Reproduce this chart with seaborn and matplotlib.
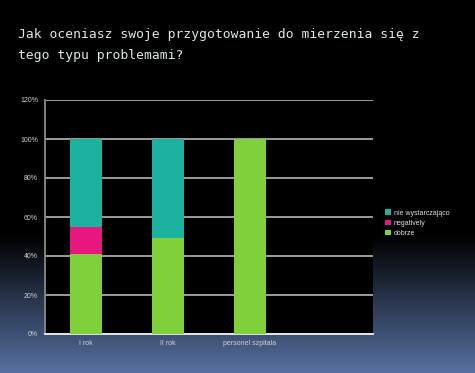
import numpy as np
import pandas as pd
import seaborn as sns
import matplotlib.pyplot as plt
from matplotlib.patches import Patch

# Dane (procenty)
groups = ['I rok', 'II rok', 'personel szpitala']
dobrze = [41, 49, 100]
negatywny = [14, 0, 0]
nie_wystarczajaco = [45, 51, 0]
series_names = ['nie wystarczająco', 'negatively', 'dobrze']
series_colors = ['#1bb3a0', '#e8177f', '#80d03a']
yticks = [0, 20, 40, 60, 80, 100, 120]

df = pd.DataFrame({'grupa': groups, 'dobrze': dobrze,
                   'negatywny': negatywny, 'nie wystarczająco': nie_wystarczajaco})
df['c1'] = df['dobrze']
df['c2'] = df['c1'] + df['negatywny']
df['c3'] = df['c2'] + df['nie wystarczająco']

sns.set_style('dark')
plt.rcParams['font.family'] = ['Liberation Sans', 'DejaVu Sans']

fig = plt.figure(figsize=(4.75, 3.73), dpi=100)

# tło slajdu: gradient od czarnego do niebieskiego
bg = fig.add_axes([0, 0, 1, 1], zorder=-10)
h = 373
grad = np.zeros((h, 1, 3))
top = np.array([0, 0, 0])
bot = np.array([0x56, 0x71, 0xa2]) / 255
for i in range(h):
    t = (i - 235) / (h - 235)
    t = min(max(t, 0), 1)
    grad[i, 0] = top + (bot - top) * t
bg.imshow(grad, aspect='auto', extent=[0, 1, 0, 1])
bg.axis('off')

ax = fig.add_axes([45 / 475, 1 - 334 / 373, 328 / 475, 234 / 373])
ax.set_facecolor('black')

for col, color in zip(['c3', 'c2', 'c1'], series_colors):
    sns.barplot(data=df, x='grupa', y=col, color=color, width=0.4,
                saturation=1, ax=ax, zorder=3, linewidth=0)

ax.set_xlim(-0.5, 3.5)
ax.set_ylim(0, 120)
ax.set_yticks(yticks)
ax.set_yticklabels([f'{v}%' for v in yticks])
ax.set_xticks(range(len(groups)))
ax.set_xticklabels(groups)
ax.set_xticks([-0.5, 0.5, 1.5, 2.5, 3.5], minor=True)
ax.tick_params(axis='x', which='major', length=0, pad=4, labelsize=5, labelcolor='#d0d0d0')
ax.tick_params(axis='x', which='minor', length=3, color='#dddddd', width=1)
ax.tick_params(axis='y', length=3, color='#dddddd', width=1, pad=2,
               labelsize=5, labelcolor='#d0d0d0')
ax.set_xlabel('')
ax.set_ylabel('')
ax.grid(axis='y', color='#a8a8a8', linewidth=1.3, zorder=1)
ax.grid(axis='x', visible=False)
for s in ['top', 'right']:
    ax.spines[s].set_visible(False)
ax.spines['left'].set_color('#8a8a8a')
ax.spines['left'].set_linewidth(1.3)
ax.spines['bottom'].set_color('#eeeeee')
ax.spines['bottom'].set_linewidth(1.3)

handles = [Patch(facecolor=c, edgecolor='none', label=n)
           for n, c in zip(series_names, series_colors)]
leg = fig.legend(handles=handles, loc='upper left', bbox_to_anchor=(382 / 475, 1 - 206 / 373),
                 frameon=False, fontsize=5, handlelength=0.8, handleheight=0.8,
                 handletextpad=0.4, labelspacing=0.45, borderpad=0)
for t in leg.get_texts():
    t.set_color('#e0e0e0')

fig.text(18 / 475, 1 - 28 / 373,
         'Jak oceniasz swoje przygotowanie do mierzenia się z\ntego typu problemami?',
         family='DejaVu Sans Mono', fontsize=9.4, color='#dfe8ec', va='top',
         linespacing=1.75)

fig.savefig('out.png', dpi=100)
